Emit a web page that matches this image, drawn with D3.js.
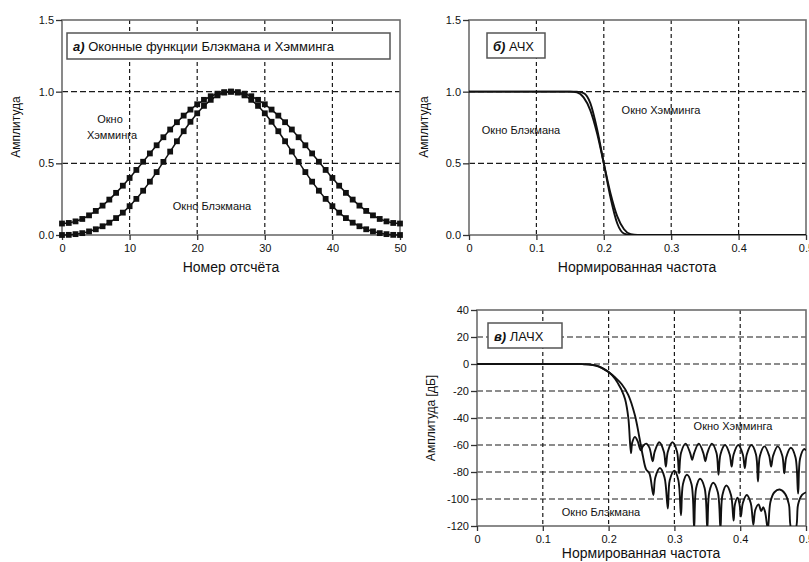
<!DOCTYPE html>
<html>
<head>
<meta charset="utf-8">
<script src="https://cdn.jsdelivr.net/npm/d3@7"></script>
<style>
    body { margin: 0; background: #fff; }
    svg { font-family: "Liberation Sans", Arial, sans-serif; }
</style>
</head>
<body>
<svg id="chart" width="809" height="562"></svg>
<script>
// window samples 0..50
const hammingWin = [0.080, 0.084, 0.095, 0.112, 0.137, 0.168, 0.205, 0.247, 0.294, 0.344, 0.398, 0.454, 0.511,
    0.569, 0.626, 0.682, 0.736, 0.787, 0.833, 0.875, 0.912, 0.943, 0.968, 0.986, 0.996, 1.000,
    0.996, 0.986, 0.968, 0.943, 0.912, 0.875, 0.833, 0.787, 0.736, 0.682, 0.626, 0.569, 0.511,
    0.454, 0.398, 0.344, 0.294, 0.247, 0.205, 0.168, 0.137, 0.112, 0.095, 0.084, 0.080];
const blackmanWin = [0.000, 0.001, 0.006, 0.013, 0.025, 0.040, 0.061, 0.086, 0.118, 0.156, 0.201, 0.252, 0.309,
    0.372, 0.439, 0.510, 0.582, 0.654, 0.724, 0.790, 0.849, 0.901, 0.943, 0.974, 0.994, 1.000,
    0.994, 0.974, 0.943, 0.901, 0.849, 0.790, 0.724, 0.654, 0.582, 0.510, 0.439, 0.372, 0.309,
    0.252, 0.201, 0.156, 0.118, 0.086, 0.061, 0.040, 0.025, 0.013, 0.006, 0.001, 0.000];

// linear frequency response
const freqLin = [0, 0.05, 0.1, 0.15, 0.16, 0.17, 0.18, 0.19, 0.2, 0.21, 0.22, 0.23, 0.24, 0.25, 0.3, 0.4, 0.5];
const hammingAmp = [1, 1, 1, 1, 1, 0.99, 0.92, 0.74, 0.5, 0.26, 0.08, 0.01, 0, 0, 0, 0, 0];
const blackmanAmp = [1, 1, 1, 1, 0.995, 0.96, 0.87, 0.71, 0.5, 0.29, 0.13, 0.04, 0.005, 0, 0, 0, 0];

// log response [freq, dB]
const hammingDb = [[0, 0], [0.1, 0], [0.15, 0], [0.16, -0.1], [0.17, -0.3], [0.18, -1], [0.19, -2.8], [0.2, -6],
    [0.21, -11], [0.215, -15], [0.22, -19.5], [0.225, -26], [0.23, -40], [0.234, -66],
    [0.236, -58], [0.24, -54], [0.244, -57], [0.249, -64], [0.252, -61], [0.257, -59], [0.262, -62], [0.267, -72],
    [0.270, -65], [0.277, -58], [0.284, -65], [0.287, -76],
    [0.290, -65], [0.297, -58], [0.304, -65], [0.307, -81],
    [0.310, -66], [0.317, -59], [0.324, -66], [0.327, -71],
    [0.330, -66], [0.337, -59], [0.344, -66], [0.347, -72],
    [0.350, -66], [0.357, -59], [0.364, -66], [0.367, -82],
    [0.370, -67], [0.377, -60], [0.384, -67], [0.387, -76],
    [0.390, -67], [0.397, -60], [0.404, -67], [0.407, -77],
    [0.410, -67], [0.417, -60], [0.424, -67], [0.427, -87],
    [0.430, -68], [0.437, -61], [0.444, -68], [0.447, -76],
    [0.450, -68], [0.457, -61], [0.464, -68], [0.467, -81],
    [0.470, -69], [0.477, -62], [0.484, -69], [0.488, -96],
    [0.491, -70], [0.497, -63], [0.5, -64]];
const blackmanDb = [[0, 0], [0.1, 0], [0.15, 0], [0.16, -0.1], [0.17, -0.4], [0.18, -1.2], [0.19, -3], [0.2, -6],
    [0.21, -10], [0.22, -15], [0.23, -23], [0.24, -38], [0.247, -55], [0.252, -68], [0.257, -78], [0.262, -81], [0.268, -97],
    [0.271, -84], [0.278, -77], [0.285, -84], [0.290, -107],
    [0.293, -86], [0.300, -79], [0.306, -86], [0.310, -112],
    [0.313, -89], [0.319, -82], [0.326, -89], [0.330, -122],
    [0.333, -92], [0.339, -85], [0.346, -92], [0.350, -122],
    [0.353, -95], [0.359, -88], [0.366, -95], [0.370, -122],
    [0.373, -97], [0.379, -90], [0.386, -97], [0.390, -116],
    [0.392, -104], [0.396, -99], [0.399, -104], [0.401, -113],
    [0.404, -103], [0.410, -97], [0.416, -103], [0.420, -119],
    [0.423, -108], [0.428, -104], [0.432, -109], [0.435, -106], [0.438, -110], [0.442, -122],
    [0.446, -102], [0.452, -95], [0.460, -93], [0.468, -96], [0.474, -104], [0.478, -122], [0.484, -122],
    [0.488, -104], [0.494, -97], [0.5, -95]];

const sampleTicks = [0, 10, 20, 30, 40, 50];
const freqTicks = [0, 0.1, 0.2, 0.3, 0.4, 0.5];
const freqTickLabels = ['0', '0.1', '0.2', '0.3', '0.4', '0.5'];
const ampTicks = [0, 0.5, 1.0, 1.5];
const ampTickLabels = ['0.0', '0.5', '1.0', '1.5'];
const dbTicks = [40, 20, 0, -20, -40, -60, -80, -100, -120];
const dbTickLabels = ['40', '20', '0', '-20', '-40', '-60', '-80', '-100', '-120'];

const svg = d3.select('#chart');

function panel(id, box, xDomain, yDomain, xTicks, xLabels, yTicks, yLabels) {
    const x = d3.scaleLinear().domain(xDomain).range([box.left, box.right]);
    const y = d3.scaleLinear().domain(yDomain).range([box.bottom, box.top]);
    const g = svg.append('g');

    g.append('clipPath').attr('id', id)
        .append('rect')
        .attr('x', box.left).attr('y', box.top)
        .attr('width', box.right - box.left).attr('height', box.bottom - box.top);

    // dashed grid
    const grid = g.append('g').attr('stroke', '#1a1a1a').attr('stroke-width', 1.2);
    grid.selectAll('.gx').data(xTicks.slice(1, -1)).join('line')
        .attr('x1', d => x(d)).attr('x2', d => x(d))
        .attr('y1', box.top).attr('y2', box.bottom)
        .attr('stroke-dasharray', '4,3');
    grid.selectAll('.gy').data(yTicks.filter(d => d !== yDomain[0] && d !== yDomain[1])).join('line')
        .attr('y1', d => y(d)).attr('y2', d => y(d))
        .attr('x1', box.left).attr('x2', box.right)
        .attr('stroke-dasharray', '6,3');

    g.append('rect')
        .attr('x', box.left).attr('y', box.top)
        .attr('width', box.right - box.left).attr('height', box.bottom - box.top)
        .attr('fill', 'none').attr('stroke', '#6d6d6d').attr('stroke-width', 1.6);

    const xAxis = g.append('g')
        .attr('transform', `translate(0,${box.bottom})`)
        .call(d3.axisBottom(x).tickValues(xTicks).tickSize(5).tickPadding(4)
            .tickFormat((d, i) => xLabels[i]));
    const yAxis = g.append('g')
        .attr('transform', `translate(${box.left},0)`)
        .call(d3.axisLeft(y).tickValues(yTicks).tickSize(6).tickPadding(2)
            .tickFormat((d, i) => yLabels[i]));
    [xAxis, yAxis].forEach(a => {
        a.select('.domain').remove();
        a.selectAll('line').attr('stroke', '#333').attr('stroke-width', 1.3);
        a.selectAll('text').attr('fill', '#111').style('font-size', '11px');
    });

    return {x, y, g};
}

function titleBox(g, bx, by, bw, bh, tag, rest) {
    g.append('rect')
        .attr('x', bx).attr('y', by).attr('width', bw).attr('height', bh)
        .attr('fill', '#fff').attr('stroke', '#555').attr('stroke-width', 1.5);
    const t = g.append('text').attr('x', bx + 6).attr('y', by + bh / 2 + 5)
        .style('font-size', '13px').attr('fill', '#111');
    t.append('tspan').attr('font-weight', 'bold').attr('font-style', 'italic').text(tag);
    t.append('tspan').text(' ' + rest);
}

function label(g, x, y, txt, size, rotate) {
    const t = g.append('text')
        .attr('text-anchor', 'middle')
        .style('font-size', size + 'px')
        .attr('fill', '#111')
        .text(txt);
    if (rotate) t.attr('transform', `translate(${x},${y}) rotate(-90)`);
    else t.attr('x', x).attr('y', y);
    return t;
}

// а) windows
const A = panel('clipA', {left: 62, right: 400, top: 20, bottom: 235}, [0, 50], [0, 1.5],
    sampleTicks, sampleTicks.map(String), ampTicks, ampTickLabels);
[hammingWin, blackmanWin].forEach(win => {
    A.g.append('path')
        .datum(win)
        .attr('fill', 'none').attr('stroke', '#111').attr('stroke-width', 1.5)
        .attr('d', d3.line().x((d, i) => A.x(i)).y(d => A.y(d)));
    A.g.append('g').selectAll('rect').data(win).join('rect')
        .attr('x', (d, i) => A.x(i) - 2.9).attr('y', d => A.y(d) - 2.9)
        .attr('width', 5.8).attr('height', 5.8)
        .attr('fill', '#111');
});
titleBox(A.g, 67, 33, 323, 26, 'а)', 'Оконные функции Блэкмана и Хэмминга');
label(A.g, 110, 123, 'Окно', 11);
label(A.g, 112, 139, 'Хэмминга', 11);
label(A.g, 212, 210, 'Окно Блэкмана', 11);
label(A.g, 20, 127, 'Амплитуда', 12, true);
label(A.g, 231, 272, 'Номер отсчёта', 14);

// б) linear response
const B = panel('clipB', {left: 469, right: 806, top: 20, bottom: 235}, [0, 0.5], [0, 1.5],
    freqTicks, freqTickLabels, ampTicks, ampTickLabels);
[hammingAmp, blackmanAmp].forEach(amp => {
    B.g.append('path')
        .datum(amp)
        .attr('clip-path', 'url(#clipB)')
        .attr('fill', 'none').attr('stroke', '#111').attr('stroke-width', 1.9)
        .attr('d', d3.line().curve(d3.curveMonotoneX)
            .x((d, i) => B.x(freqLin[i])).y(d => B.y(d)));
});
titleBox(B.g, 487, 33, 58, 25, 'б)', 'АЧХ');
label(B.g, 661, 114, 'Окно Хэмминга', 11);
label(B.g, 521, 134, 'Окно Блэкмана', 11);
label(B.g, 428, 127, 'Амплитуда', 12, true);
label(B.g, 637, 272, 'Нормированная частота', 14);

// в) log response
const C = panel('clipC', {left: 477, right: 806, top: 310, bottom: 526}, [0, 0.5], [-120, 40],
    freqTicks, freqTickLabels, dbTicks, dbTickLabels);
[hammingDb, blackmanDb].forEach(db => {
    C.g.append('path')
        .datum(db)
        .attr('clip-path', 'url(#clipC)')
        .attr('fill', 'none').attr('stroke', '#111').attr('stroke-width', 1.9)
        .attr('d', d3.line().curve(d3.curveCatmullRom.alpha(0.5))
            .x(d => C.x(d[0])).y(d => C.y(d[1])));
});
titleBox(C.g, 488, 323, 74, 25, 'в)', 'ЛАЧХ');
label(C.g, 733, 430, 'Окно Хэмминга', 11);
label(C.g, 601, 516, 'Окно Блэкмана', 11);
label(C.g, 435, 418, 'Амплитуда [дБ]', 12, true);
label(C.g, 641, 558, 'Нормированная частота', 14);
</script>
</body>
</html>
